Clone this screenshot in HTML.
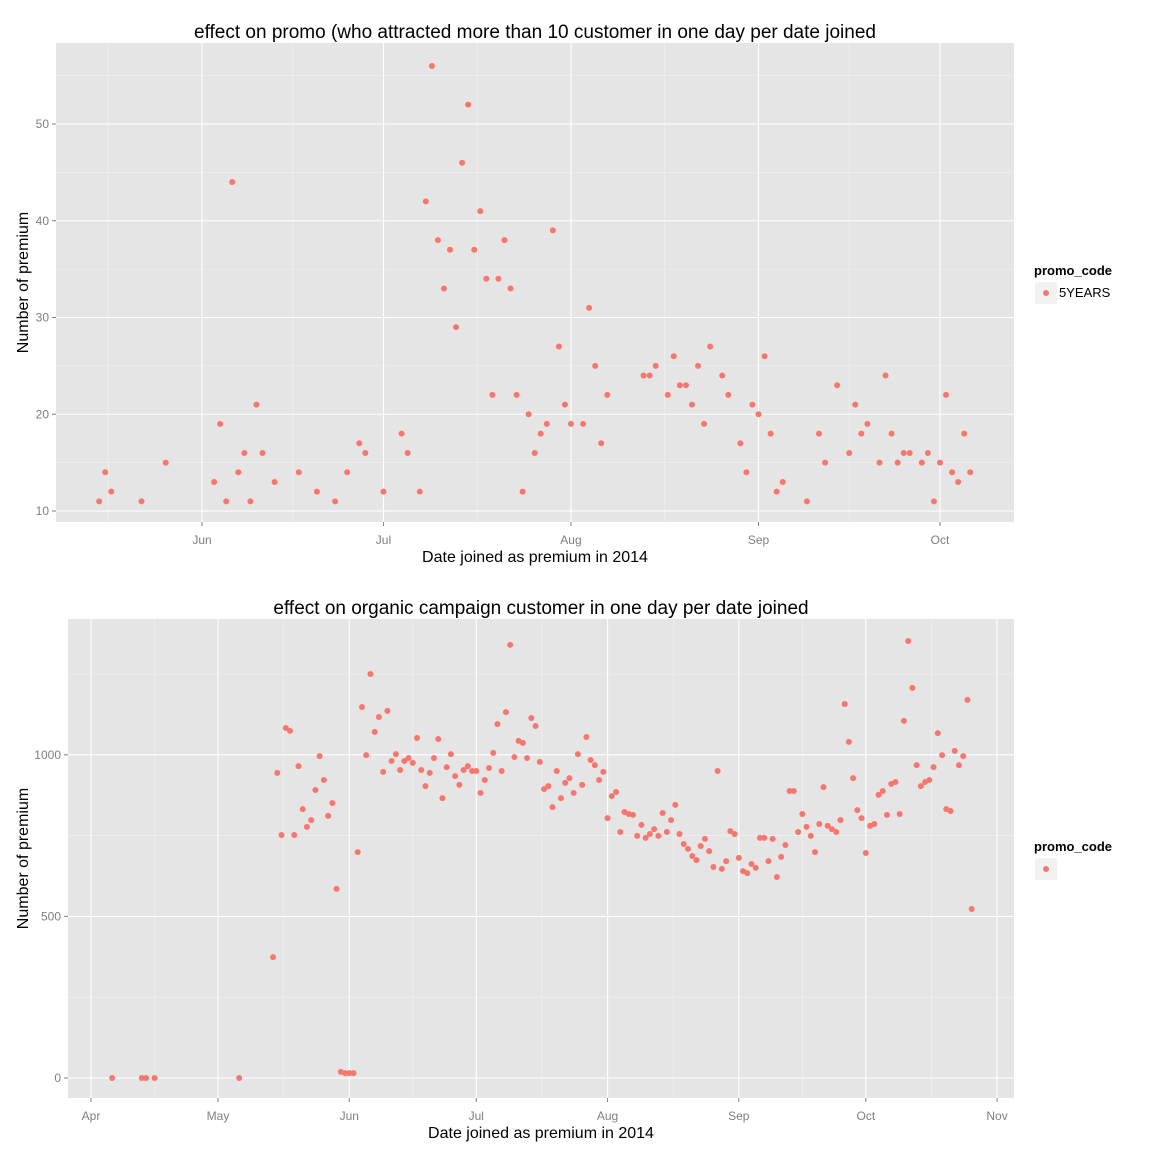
<!DOCTYPE html>
<html><head><meta charset="utf-8">
<style>
html,body{margin:0;padding:0;background:#fff;}
svg{display:block;font-family:"Liberation Sans",Arial,sans-serif;}
</style></head>
<body>
<svg id="c" width="1152" height="1152" viewBox="0 0 1152 1152"></svg>
<script>
// ---------- top chart data (day offset from 2014-06-01, count) ----------
const topDays = [-17,-16,-15,-10,-6,2,3,4,5,6,7,8,9,10,12,16,19,22,24,26,27,30,33,34,36,37,38,39,40,41,42,43,44,45,46,47,48,49,50,51,52,53,54,55,56,57,58,59,60,61,63,64,65,66,67,73,74,75,77,78,79,80,81,82,83,84,86,87,89,90,91,92,93,94,95,96,100,102,103,105,107,108,109,110,112,113,114,115,116,117,119,120,121,122,123,124,125,126,127];
const topValues = [11,14,12,11,15,13,19,11,44,14,16,11,21,16,13,14,12,11,14,17,16,12,18,16,12,42,56,38,33,37,29,46,52,37,41,34,22,34,38,33,22,12,20,16,18,19,39,27,21,19,19,31,25,17,22,24,24,25,22,26,23,23,21,25,19,27,24,22,17,14,21,20,26,18,12,13,11,18,15,23,16,21,18,19,15,24,18,15,16,16,15,16,11,15,22,14,13,18,14];
const topYTicks = [10,20,30,40,50];
const topXLabels = ["Jun","Jul","Aug","Sep","Oct"];
const topXTickDays = [0,30,61,92,122];

// ---------- bottom chart data (day offset from 2014-04-01, count) ----------
const botDays = [5,12,13,15,35,43,44,45,46,47,48,49,50,51,52,53,54,55,56,57,58,59,60,61,62,63,64,65,66,67,68,69,70,71,72,73,74,75,76,77,78,79,80,81,82,83,84,85,86,87,88,89,90,91,92,93,94,95,96,97,98,99,100,101,102,103,104,105,106,107,108,109,110,111,112,113,114,115,116,117,118,119,120,121,122,123,124,125,126,127,128,129,130,131,132,133,134,135,136,137,138,139,140,141,142,143,144,145,146,147,148,149,150,151,152,153,154,155,156,157,158,159,160,161,162,163,164,165,166,167,168,169,170,171,172,173,174,175,176,177,178,179,180,181,182,183,184,185,186,187,188,189,190,191,192,193,194,195,196,197,198,199,200,201,202,203,204,205,206,207,208];
const botValues = [0,0,0,0,0,374,944,752,1083,1074,752,965,832,777,798,891,996,922,811,851,585,19,15,15,15,699,1148,999,1250,1071,1117,947,1136,981,1002,953,981,990,975,1052,953,903,944,990,1049,866,962,1002,934,907,953,965,950,950,882,922,959,1006,1095,950,1132,1340,993,1043,1037,990,1114,1089,978,894,903,838,950,866,913,928,882,1002,907,1055,984,968,922,947,804,872,885,761,823,817,814,749,783,743,755,770,749,820,761,798,845,755,724,709,687,674,718,740,702,653,950,647,671,764,755,681,640,634,662,650,743,743,671,740,622,684,721,888,888,761,817,777,749,699,786,900,780,770,761,798,1157,1040,928,829,804,696,780,786,876,888,814,910,916,817,1105,1352,1207,968,903,916,922,962,1067,999,832,826,1012,968,996,1170,523];
const botYTicks = [0,500,1000];
const botXLabels = ["Apr","May","Jun","Jul","Aug","Sep","Oct","Nov"];
const botXTickDays = [0,30,61,91,122,153,183,214];

const NS = "http://www.w3.org/2000/svg";
const svg = document.getElementById('c');
function mk(tag, attrs, parent){
  const e = document.createElementNS(NS, tag);
  for (const k in attrs) e.setAttribute(k, attrs[k]);
  (parent||svg).appendChild(e);
  return e;
}

function panel(cfg){
  const g = mk('g', {});
  
  
  const {x0,x1,y0,y1} = cfg;
  const bg = mk('rect', {x:x0,y:y0,width:x1-x0,height:y1-y0,fill:'#e5e5e5'}, g);
  
  
  const xs = d => cfg.xA + (d - cfg.dA) * cfg.pxDay;
  const ys = v => cfg.yA + (v - cfg.vA) * cfg.pxVal;
  const yt = cfg.yTicks, step = yt[1]-yt[0];
  for (let v = yt[0]-step/2; ; v += step){
    const y = ys(v); if (y < y0) break; if (y > y1) continue;
    mk('line',{x1:x0,x2:x1,y1:y,y2:y,stroke:'#f2f2f2','stroke-width':0.6},g);
  }
  const xd = cfg.xTickDays;
  const mids = [];
  for (let i=0;i<xd.length-1;i++) mids.push((xd[i]+xd[i+1])/2);
  mids.push(xd[0]-15.5); mids.push(xd[xd.length-1]+15.5);
  mids.forEach(d=>{const x=xs(d); if(x>x0&&x<x1) mk('line',{x1:x,x2:x,y1:y0,y2:y1,stroke:'#f2f2f2','stroke-width':0.6},g);});
  yt.forEach(v=>{
    const y = ys(v);
    const gl = mk('line',{x1:x0,x2:x1,y1:y,y2:y,stroke:'#fff','stroke-width':1.1},g);
    
    
    mk('line',{x1:x0-4,x2:x0,y1:y,y2:y,stroke:'#7f7f7f','stroke-width':1},g);
    const t = mk('text',{x:x0-7,y:y+4,'text-anchor':'end','font-size':12,fill:'#7f7f7f'},g);
    t.textContent = v;
    
    
  });
  xd.forEach((d,i)=>{
    const x = xs(d);
    const gl = mk('line',{x1:x,x2:x,y1:y0,y2:y1,stroke:'#fff','stroke-width':1.1},g);
    
    
    mk('line',{x1:x,x2:x,y1:y1,y2:y1+4,stroke:'#7f7f7f','stroke-width':1},g);
    const t = mk('text',{x:x,y:y1+22,'text-anchor':'middle','font-size':12,fill:'#7f7f7f'},g);
    t.textContent = cfg.xLabels[i];
    
    
  });
  cfg.days.forEach((d,i)=>{
    const p = mk('circle',{cx:xs(d),cy:ys(cfg.values[i]),r:3,fill:'#F8766D'},g);
    
    
  });
  const tt = mk('text',{x:cfg.titleX,y:y0-5,'text-anchor':'middle','font-size':19,fill:'#000'},g);
  tt.textContent = cfg.title;
  
  
  const xt = mk('text',{x:(x0+x1)/2,y:y1+40,'text-anchor':'middle','font-size':16,fill:'#000'},g);
  xt.textContent = 'Date joined as premium in 2014';
  
  
  const cy = (y0+y1)/2;
  const yt2 = mk('text',{x:28,y:cy,'text-anchor':'middle','font-size':16,fill:'#000',transform:`rotate(-90 28 ${cy})`},g);
  yt2.textContent = 'Number of premium';
  
  
  const lg = mk('g',{},g);
  
  
  const lt = mk('text',{x:1034,y:cfg.legY,'font-size':13,'font-weight':'bold',fill:'#000'},lg);
  lt.textContent = 'promo_code';
  mk('rect',{x:1035,y:cfg.legY+7,width:22,height:22,fill:'#f2f2f2'},lg);
  const kd = mk('circle',{cx:1046,cy:cfg.legY+18,r:3,fill:'#F8766D'},lg);
  
  
  if (cfg.legLabel){
    const ll = mk('text',{x:1059,y:cfg.legY+22,'font-size':13,fill:'#000'},lg);
    ll.textContent = cfg.legLabel;
    
    
  }
}

panel({name:'top-chart',x0:56,x1:1014,y0:43,y1:522,
  xA:202,dA:0,pxDay:6.049,yA:511,vA:10,pxVal:-9.675,
  yTicks:topYTicks,xTickDays:topXTickDays,xLabels:topXLabels,
  days:topDays,values:topValues,
  title:'effect on promo (who attracted more than 10 customer in one day per date joined',titleX:535,
  legY:275,legLabel:'5YEARS'});
panel({name:'bottom-chart',x0:68,x1:1014,y0:619,y1:1098,
  xA:91,dA:0,pxDay:4.234,yA:1078,vA:0,pxVal:-0.3232,
  yTicks:botYTicks,xTickDays:botXTickDays,xLabels:botXLabels,
  days:botDays,values:botValues,
  title:'effect on organic campaign customer in one day per date joined',titleX:541,
  legY:851,legLabel:''});
</script>
</body></html>
